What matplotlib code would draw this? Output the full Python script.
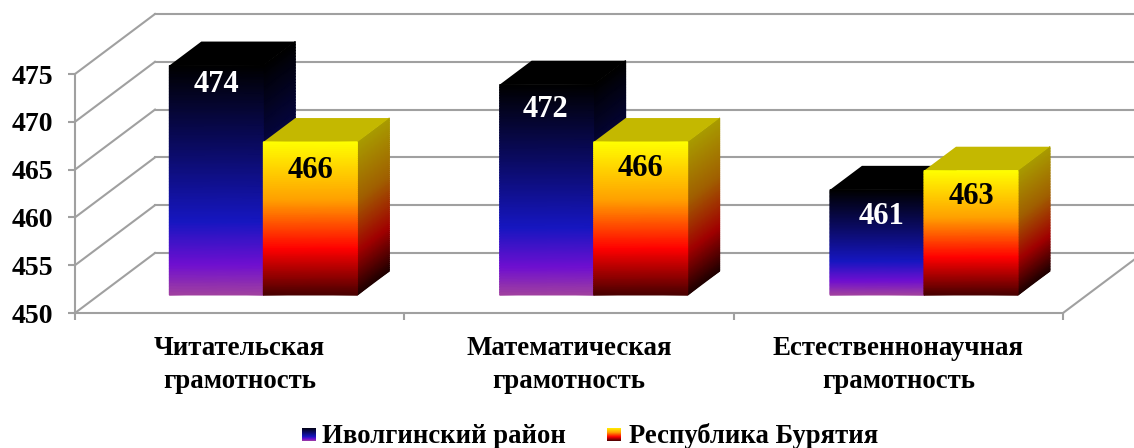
import numpy as np
import matplotlib
matplotlib.use('Agg')
import matplotlib.pyplot as plt
from matplotlib.colors import LinearSegmentedColormap

# data
categorias = ['Читательская\nграмотность', 'Математическая\nграмотность', 'Естественнонаучная\nграмотность']
rayon_name = 'Иволгинский район'
buryatia_name = 'Республика Бурятия'
rayon = [474, 472, 461]
buryatia = [466, 466, 463]
yticks = [450, 455, 460, 465, 470, 475]

W, H = 1134, 448
SERIF = 'Liberation Serif'
GRID = '#a0a0a0'
LW = 1.5

# colours
blue_front = LinearSegmentedColormap.from_list('bf', [(0, '#000000'), (0.35, '#0a0a60'), (0.68, '#1616c0'),
                                                      (0.87, '#6f0fd0'), (1, '#a040a0')])
blue_side = LinearSegmentedColormap.from_list('bs', [(0, '#000000'), (0.7, '#0a0a80'), (1, '#300060')])
yellow_front = LinearSegmentedColormap.from_list('yf', [(0, '#ffff00'), (0.38, '#ffa000'), (0.7, '#ff0000'),
                                                        (1, '#4a0000')])
yellow_side = LinearSegmentedColormap.from_list('ys', [(0, '#a89c00'), (0.38, '#a06000'), (0.72, '#a00000'),
                                                       (1, '#200000')])

fig = plt.figure(figsize=(W / 100, H / 100), dpi=100)
ax = fig.add_axes([75 / W, 1 - 313 / H, 988 / W, 239 / H])
ax.set_xlim(0, 3)
ax.set_ylim(450, 475)

# pseudo 3d depth, 1 = back wall (80 px right, 60 px up)
DX = 80 / (988 / 3)
DV = 60 / (239 / 25)
BAR_D0 = 0.3
BAR_D1 = 0.7
BAR_X = 0.2135
BAR_W = 0.2855
PITCH = 1.003
BASE = 450


def proj(x, v, d):
    return x + d * DX, v + d * DV


def gradient(X, Y, cmap, z):
    t = np.linspace(0, 1, 80)
    C = np.vstack([t, t]).T
    ax.pcolormesh(X, Y, C, cmap=cmap, vmin=0, vmax=1, shading='gouraud', clip_on=False, zorder=z)


def bar3d(x, val, front, side, top_color, z):
    t = np.linspace(0, 1, 80)
    v = val + (BASE - val) * t
    # side face
    x0, y0 = proj(x + BAR_W, v, BAR_D0)
    x1, y1 = proj(x + BAR_W, v, BAR_D1)
    gradient(np.column_stack([x0, x1]), np.column_stack([y0, y1]), side, z)
    # top face
    pts = [proj(x, val, BAR_D0), proj(x + BAR_W, val, BAR_D0), proj(x + BAR_W, val, BAR_D1), proj(x, val, BAR_D1)]
    ax.fill([p[0] for p in pts], [p[1] for p in pts], color=top_color, lw=0, clip_on=False, zorder=z + 0.1)
    # front face
    x0, y0 = proj(x, v, BAR_D0)
    x1, y1 = proj(x + BAR_W, v, BAR_D0)
    gradient(np.column_stack([x0, x1]), np.column_stack([y0, y1]), front, z + 0.2)


# walls
for t in yticks:
    a, b = proj(0, t, 0), proj(0, t, 1)
    ax.plot([a[0], b[0]], [a[1], b[1]], color=GRID, lw=LW, clip_on=False, zorder=1)
    a, b = proj(0, t, 1), proj(3.2, t, 1)
    ax.plot([a[0], b[0]], [a[1], b[1]], color=GRID, lw=LW, clip_on=False, zorder=1)
a, b = proj(3, 450, 0), proj(3, 450, 1)
ax.plot([a[0], b[0]], [a[1], b[1]], color=GRID, lw=LW, clip_on=False, zorder=1)

# bars
for i in range(3):
    bar3d(i * PITCH + BAR_X, rayon[i], blue_front, blue_side, '#000000', 2)
    bar3d(i * PITCH + BAR_X + BAR_W, buryatia[i], yellow_front, yellow_side, '#c4b800', 3)

# value label nudges from the bar top centre, in pixels
rayon_drop = [19, 25, 27]
rayon_dx = [0, -1, 5]
buryatia_drop = [28, 26, 26]
buryatia_dx = [0, 0, 0]
for i in range(3):
    px, py = proj(i * PITCH + BAR_X + BAR_W / 2, rayon[i], BAR_D0)
    ax.annotate(str(rayon[i]), (px, py), xytext=(rayon_dx[i] * 0.72, -rayon_drop[i] * 0.72),
                textcoords='offset points', annotation_clip=False,
                ha='center', va='center', color='white', family=SERIF, weight='bold', fontsize=22, zorder=6)
    px, py = proj(i * PITCH + BAR_X + BAR_W * 1.5, buryatia[i], BAR_D0)
    ax.annotate(str(buryatia[i]), (px, py), xytext=(buryatia_dx[i] * 0.72, -buryatia_drop[i] * 0.72),
                textcoords='offset points', annotation_clip=False,
                ha='center', va='center', color='black', family=SERIF, weight='bold', fontsize=22, zorder=6)

# axes
for s in ['top', 'right']:
    ax.spines[s].set_visible(False)
for s in ['left', 'bottom']:
    ax.spines[s].set_color(GRID)
    ax.spines[s].set_linewidth(LW)
ax.set_yticks(yticks)
ax.set_yticklabels([str(t) for t in yticks], family=SERIF, weight='bold', fontsize=20)
ax.tick_params(axis='y', length=5, width=LW, color=GRID, pad=11)
ax.set_xticks([0, 1, 2, 3])
ax.set_xticklabels([])
ax.tick_params(axis='x', which='major', length=5, width=LW, color=GRID)
ax.set_xticks([0.5, 1.5, 2.5], minor=True)
ax.set_xticklabels(categorias, minor=True, family=SERIF, weight='bold', fontsize=19.4, linespacing=1.4)
ax.tick_params(axis='x', which='minor', length=0, pad=16.5)

# legend
grad = np.linspace(0, 1, 64).reshape(-1, 1)
for x0, cm in [(302, blue_front), (607, yellow_front)]:
    sw = fig.add_axes([x0 / W, 1 - 441 / H, 14 / W, 13 / H])
    sw.imshow(grad, aspect='auto', cmap=cm)
    sw.axis('off')
fig.text(322 / W, 1 - 436 / H, rayon_name, family=SERIF, weight='bold', fontsize=19.2, va='center')
fig.text(629 / W, 1 - 436 / H, buryatia_name, family=SERIF, weight='bold', fontsize=19.2, va='center')

plt.savefig('out.png', dpi=100)
